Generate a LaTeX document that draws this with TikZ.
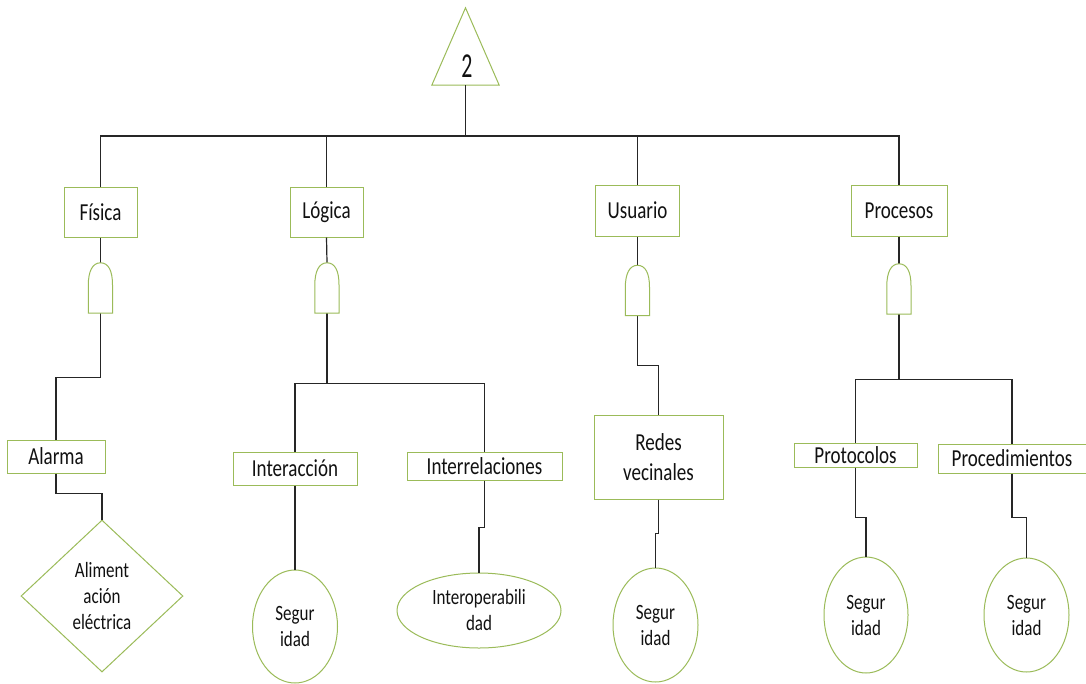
\documentclass[tikz,border=0pt]{standalone}
\usepackage{graphicx}
\usepackage{fontspec}
\setmainfont{Carlito}[FakeStretch=0.78]
\usetikzlibrary{shapes.geometric}
\definecolor{boxgreen}{HTML}{9BBB59}
\definecolor{txt}{HTML}{111111}
\newcommand\drawgate[1]{%
  \draw[gateline] (#1.south west) -- ++(0,-28)
    .. controls +(0,-14) and +(-8,0) .. (#1.north)
    .. controls +(8,0) and +(0,-14) .. ++(12,22)
    -- (#1.south east) -- cycle;}
\begin{document}
\begin{tikzpicture}[x=1pt,y=-1pt,
  box/.style={draw=boxgreen, line width=1pt, fill=white, inner sep=0pt, text=txt,
    font=\fontsize{24.4}{30}\selectfont, align=center},
  oval/.style={ellipse, draw=boxgreen, line width=1pt, fill=white, inner sep=0pt, text=txt,
    font=\fontsize{21.8}{26}\selectfont, align=center},
  rhomb/.style={diamond, draw=boxgreen, line width=1pt, fill=white, inner sep=0pt, text=txt,
    font=\fontsize{21.8}{26}\selectfont, align=center},
  gatebox/.style={inner sep=0pt, minimum width=24pt, minimum height=50pt},
  gateline/.style={draw=boxgreen, line width=1pt, fill=white},
  link/.style={draw=black!85, line width=1.2pt},
]
\useasboundingbox (0,0) rectangle (1086,683);
\fill[white] (0,0) rectangle (1086,683);

% top event
\node[inner sep=0pt, minimum width=67pt, minimum height=77pt] (top) at (465.5,46.5) {};
\draw[boxgreen, line width=1pt] (top.north) -- (top.south east) -- (top.south west) -- cycle;
\node[inner sep=0pt, text=txt, font=\fontsize{28}{30}\selectfont] (two) at (467,66) {\scalebox{1}[1.25]{2}};
\coordinate (bus) at (0,136);

% level 1 boxes
\node[box, minimum width=73pt, minimum height=50pt] (fisica) at (100.5,212) {Física};
\node[box, minimum width=73pt, minimum height=50pt] (logica) at (326.5,212) {Lógica};
\node[box, minimum width=84pt, minimum height=51pt] (usuario) at (637.5,210.5) {Usuario};
\node[box, minimum width=96pt, minimum height=51pt] (procesos) at (899,210.5) {Procesos};

% gates
\node[gatebox] (g1) at (100.5,288) {};
\node[gatebox] (g2) at (327,288) {};
\node[gatebox] (g3) at (637.5,290.5) {};
\node[gatebox] (g4) at (899,289) {};

% level 2 boxes
\node[box, minimum width=98pt, minimum height=33pt] (alarma) at (56,456.5) {Alarma};
\node[box, minimum width=124pt, minimum height=33pt] (interac) at (295,468.5) {Interacción};
\node[box, minimum width=155pt, minimum height=28pt] (interrel) at (484.5,466) {Interrelaciones};
\node[box, minimum width=129pt, minimum height=84pt] (redes) at (658.5,457) {Redes\\vecinales};
\node[box, minimum width=123pt, minimum height=24pt] (proto) at (855.5,455) {Protocolos};
\node[box, minimum width=148pt, minimum height=29pt] (proced) at (1012,458.5) {Procedimientos};

% basic events
\node[rhomb, minimum width=162pt, minimum height=152pt] (alim) at (102,596) {Aliment\\ación\\eléctrica};
\node[oval, minimum width=85pt, minimum height=113pt] (seg1) at (295,626.5) {Segur\\idad};
\node[oval, minimum width=164pt, minimum height=75pt] (interop) at (479,610.5) {Interoperabili\\dad};
\node[oval, minimum width=85pt, minimum height=114pt] (seg3) at (655.5,625) {Segur\\idad};
\node[oval, minimum width=84pt, minimum height=116pt] (seg4) at (866,615) {Segur\\idad};
\node[oval, minimum width=85pt, minimum height=114pt] (seg5) at (1026.5,615) {Segur\\idad};

% connectors from top
\foreach \n in {fisica,logica,usuario,procesos}
  \draw[link] (top.south) -- (top.south |- bus) -| (\n.north);

% box to gate
\draw[link] (fisica.south) -- (g1.north);
\draw[link] (logica.south) -- (g2.north);
\draw[link] (usuario.south) -- (g3.north);
\draw[link] (procesos.south) -- (g4.north);

% gate to children
\draw[link] (g1.south) -- ++(0,64) -| (alarma.north);
\draw[link] (g2.south) -- ++(0,70) -| (interac.north);
\draw[link] (g2.south) -- ++(0,70) -| (interrel.north);
\draw[link] (g3.south) -- ++(0,49.5) -| (redes.north);
\draw[link] (g4.south) -- ++(0,65) -| (proto.north);
\draw[link] (g4.south) -- ++(0,65) -| (proced.north);

% children to basic events
\draw[link] (alarma.south) -- ++(0,20) -| (alim.north);
\draw[link] (interac.south) -- (seg1.north);
\draw[link] (interrel.south) -- ++(0,47) -| (interop.north);
\draw[link] (redes.south) -- ++(0,34) -| (seg3.north);
\draw[link] (proto.south) -- ++(0,50) -| (seg4.north);
\draw[link] (proced.south) -- ++(0,44) -| (seg5.north);

% gate outlines
\drawgate{g1}
\drawgate{g2}
\drawgate{g3}
\drawgate{g4}
\end{tikzpicture}
\end{document}
